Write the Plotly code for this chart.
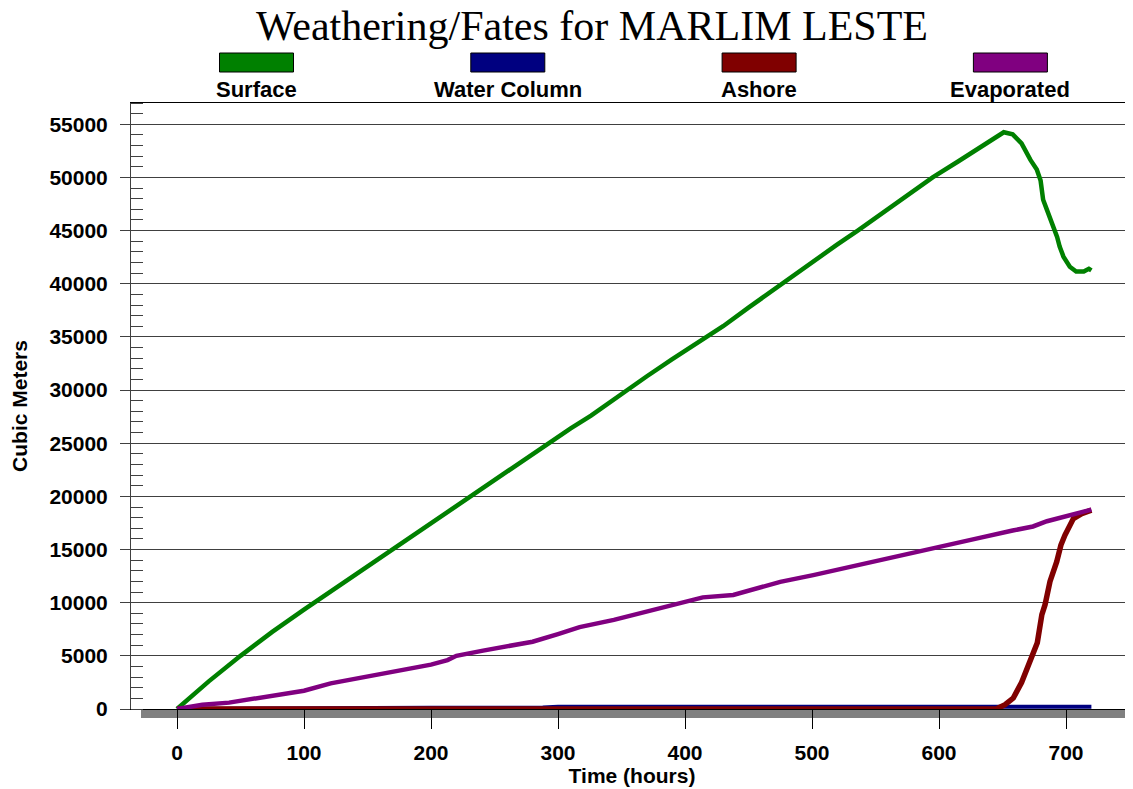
import plotly.graph_objects as go

# ---------------- data ----------------
title_text = "Weathering/Fates for MARLIM LESTE"
x_title = "Time (hours)"
y_title = "Cubic Meters"

series_names = ["Surface", "Water Column", "Ashore", "Evaporated"]
series_colors = ["#008000", "#000080", "#800000", "#800080"]

surface_t = [0, 25, 50, 75, 100, 108, 130, 150, 169, 190, 210, 232, 250, 270, 293,
             310, 326, 340, 354, 370, 390, 418, 430, 450, 476, 500, 520, 536, 555,
             575, 595, 615, 635, 645, 651, 658, 665, 672, 677, 680, 682, 685, 689,
             693, 695, 698, 703, 708, 714, 718, 720]
surface_v = [0, 2600, 5000, 7250, 9350, 10000, 11800, 13400, 15000, 16650, 18250,
             20000, 21500, 23150, 25000, 26400, 27600, 28800, 30000, 31300, 32900,
             35000, 36000, 37750, 40000, 42000, 43700, 45000, 46600, 48300, 50000,
             51500, 53000, 53800, 54250, 54050, 53200, 51650, 50750, 49700, 47900,
             46950, 45700, 44400, 43500, 42550, 41600, 41150, 41150, 41400, 41250]

water_t = [0, 60, 115, 200, 288, 300, 400, 500, 600, 700, 720]
water_v = [0, 40, 110, 120, 130, 210, 220, 220, 220, 210, 200]

ashore_t = [0, 645, 652, 658.5, 665, 671.7, 677.4, 681, 683.5, 687.4, 692.7, 696,
            699.2, 705.8, 712.4, 720]
ashore_v = [0, 0, 400, 1030, 2490, 4360, 6230, 8880, 9810, 12000, 13860, 15420,
            16360, 17910, 18380, 18700]

evap_t = [0, 20, 41, 60, 80, 100, 121, 141, 161, 180, 200, 213, 220, 241, 260, 280,
          300, 317, 344, 370, 391, 414, 438, 449, 475, 501, 527, 553, 580, 606, 632,
          658, 674, 685, 711, 720]
evap_v = [0, 400, 600, 940, 1350, 1720, 2410, 2880, 3290, 3730, 4170, 4600, 5000,
          5490, 5890, 6330, 7050, 7700, 8380, 9160, 9880, 10500, 10720, 11090, 11960,
          12590, 13300, 13990, 14770, 15450, 16100, 16790, 17170, 17660, 18440, 18750]

x_ticks = [0, 100, 200, 300, 400, 500, 600, 700]
y_ticks = [0, 5000, 10000, 15000, 20000, 25000, 30000, 35000, 40000, 45000, 50000, 55000]

series_t = [surface_t, water_t, ashore_t, evap_t]
series_v = [surface_v, water_v, ashore_v, evap_v]
series_w = [4.5, 4, 5.5, 4.5]

# ---------------- figure ----------------
# the page body has an 8px margin, so the figure is shrunk and shifted accordingly
OFF = 8
W, H = 1133 - OFF, 789 - OFF
PLOT_L, PLOT_T, PLOT_R, PLOT_B = 131, 103, 1133, 709   # screen pixels
ML, MT = PLOT_L - OFF, PLOT_T - OFF
MR, MB = 0, 789 - PLOT_B
PW, PH = PLOT_R - PLOT_L, PLOT_B - PLOT_T

fig = go.Figure()
for name, col, t, v, w in zip(series_names, series_colors, series_t, series_v, series_w):
    fig.add_trace(go.Scatter(x=t, y=v, mode="lines", name=name,
                             line=dict(color=col, width=w), showlegend=False))

bold = dict(family="Arial, Liberation Sans, sans-serif", size=21, color="black", weight="bold")
legend_font = dict(bold, size=22)

def px_x(px):
    return (px - PLOT_L) / PW

def px_y(py):
    return (PLOT_B - py) / PH

# manual legend: swatch above label
leg_first, leg_step = 256.5, 251.3
shapes = []
annotations = []
for i, (name, col) in enumerate(zip(series_names, series_colors)):
    cx = leg_first + i * leg_step
    shapes.append(dict(type="rect", xref="paper", yref="paper",
                       x0=px_x(cx - 37), x1=px_x(cx + 37), y0=px_y(72), y1=px_y(53),
                       fillcolor=col, line=dict(color="black", width=1), layer="above"))
    annotations.append(dict(text=name, xref="paper", yref="paper", x=px_x(cx), y=px_y(89),
                            xanchor="center", yanchor="middle", showarrow=False,
                            font=legend_font))

# grey floor below the x axis
shapes.append(dict(type="rect", xref="paper", yref="paper", x0=px_x(141), x1=1.0,
                   y0=px_y(718), y1=0, fillcolor="#808080", line=dict(width=0), layer="below"))

x_range = [(PLOT_L - 177) / 1.27, (PLOT_R - 177) / 1.27]

fig.update_layout(
    width=W, height=H,
    margin=dict(l=ML, r=MR, t=MT, b=MB, autoexpand=False),
    paper_bgcolor="white", plot_bgcolor="white",
    showlegend=False,
    title=dict(text=title_text, x=(592 - OFF) / W, xref="container", xanchor="center",
               y=1 - 3 / H, yref="container", yanchor="top",
               font=dict(family="Times New Roman, Liberation Serif, serif", size=42, color="black")),
    shapes=shapes,
    annotations=annotations,
    xaxis=dict(range=x_range, tickmode="array", tickvals=x_ticks, ticks="outside",
               ticklen=19, tickwidth=1, tickcolor="black", showline=True, linecolor="black",
               linewidth=1, mirror=True, showgrid=False, zeroline=False,
               tickfont=bold, ticklabelstandoff=6,
               title=dict(text=x_title, font=bold, standoff=2)),
    xaxis2=dict(range=x_range, overlaying="x", anchor="y", side="bottom",
                tickmode="linear", tick0=0, dtick=20, ticks="inside", ticklen=14,
                tickwidth=1, tickcolor="black", showticklabels=False, showline=False,
                showgrid=False, zeroline=False),
    yaxis=dict(range=[0, 57000], tickmode="array", tickvals=y_ticks, tickformat="d",
               ticks="outside", ticklen=10, tickwidth=1, tickcolor="#404040",
               showline=True, linecolor="#404040", linewidth=1,
               showgrid=True, gridcolor="#404040", gridwidth=1, zeroline=False,
               tickfont=bold, ticklabelstandoff=8,
               minor=dict(ticks="inside", ticklen=12, tick0=0, dtick=1000,
                          tickcolor="#404040", tickwidth=1, showgrid=False),
               title=dict(text=y_title, font=bold, standoff=16)),
)

fig.write_html("out.html")
